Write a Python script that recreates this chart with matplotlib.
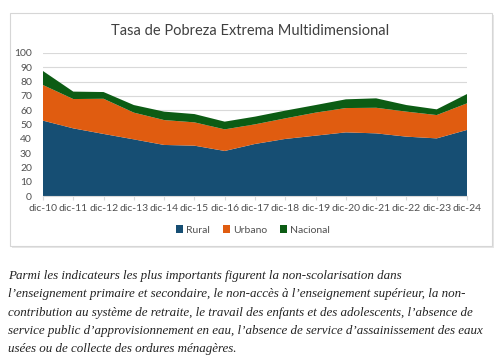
import matplotlib
matplotlib.use("Agg")
import matplotlib.pyplot as plt
from matplotlib.patches import Rectangle

years = ["dic-10", "dic-11", "dic-12", "dic-13", "dic-14", "dic-15", "dic-16", "dic-17",
         "dic-18", "dic-19", "dic-20", "dic-21", "dic-22", "dic-23", "dic-24"]
rural = [52.7, 47.3, 43.4, 39.6, 35.7, 35.2, 31.5, 36.4, 39.9, 42.2, 44.5, 43.8, 41.5, 40.3, 46.2]
urbano = [24.9, 20.5, 24.6, 18.7, 17.4, 16.3, 15.1, 13.7, 14.4, 16.1, 17.0, 17.9, 17.5, 16.3, 18.6]
nacional = [9.8, 5.2, 4.7, 5.3, 5.9, 5.8, 5.4, 5.4, 5.4, 5.3, 6.1, 6.6, 4.6, 4.0, 6.5]

series_names = ["Rural", "Urbano", "Nacional"]
colors = ["#164e73", "#e05c10", "#0c5c14"]

caption = [
    "Parmi les indicateurs les plus importants figurent la non-scolarisation dans",
    "l\u2019enseignement primaire et secondaire, le non-accès à l\u2019enseignement supérieur, la non-",
    "contribution au système de retraite, le travail des enfants et des adolescents, l\u2019absence de",
    "service public d\u2019approvisionnement en eau, l\u2019absence de service d\u2019assainissement des eaux",
    "usées ou de collecte des ordures ménagères.",
]

W, H = 500, 363
fig = plt.figure(figsize=(5, 3.63), dpi=100)
fig.patch.set_facecolor("white")

# chart frame
fig.patches.append(Rectangle((12 / W, 1 - 248 / H), 482 / W, 233 / H, transform=fig.transFigure,
                             facecolor="#e6e6e6", edgecolor="none", zorder=0))
fig.patches.append(Rectangle((10 / W, 1 - 246 / H), 482 / W, 233 / H, transform=fig.transFigure,
                             facecolor="white", edgecolor="#d6d6d6", lw=0.8, zorder=0))

ax = fig.add_axes([43 / W, 1 - 196 / H, 424 / W, 143 / H])
ax.set_zorder(2)
ax.patch.set_alpha(0)
x = list(range(len(years)))
ax.stackplot(x, rural, urbano, nacional, colors=colors, labels=series_names, zorder=2, lw=0)

ax.set_xlim(0, len(years) - 1)
ax.set_ylim(0, 100)
ax.set_yticks(range(0, 101, 10))
ax.set_xticks(x)
ax.set_xticklabels(years)
ax.grid(axis="y", color="#d9d9d9", lw=0.8, zorder=0)
ax.set_axisbelow(True)
for s in ["top", "right", "left"]:
    ax.spines[s].set_visible(False)
ax.spines["bottom"].set_color("#d9d9d9")
ax.tick_params(axis="y", length=0, labelsize=7.5, labelcolor="#505050", pad=8)
ax.tick_params(axis="x", length=3, color="#d9d9d9", labelsize=7.5, labelcolor="#505050", pad=3)
for lab in ax.get_xticklabels() + ax.get_yticklabels():
    lab.set_family("Lato")

fig.text(250 / W, 1 - 31 / H, "Tasa de Pobreza Extrema Multidimensional", family="Lato",
         fontsize=10.5, color="#404040", ha="center", va="center", zorder=3)

leg = fig.legend(loc="center", bbox_to_anchor=(253 / W, 1 - 230 / H), ncol=3, frameon=False,
                 prop={"family": "Lato", "size": 7.5}, labelcolor="#505050",
                 handlelength=0.7, handleheight=0.7, handletextpad=0.3, columnspacing=1.2)
leg.set_zorder(3)

for i, line in enumerate(caption):
    fig.text(8 / W, 1 - (276 + i * 18.3) / H, line, family="Liberation Serif", style="italic",
             fontsize=9.4, color="#222222", ha="left", va="center")

fig.savefig("out.png", dpi=100)
